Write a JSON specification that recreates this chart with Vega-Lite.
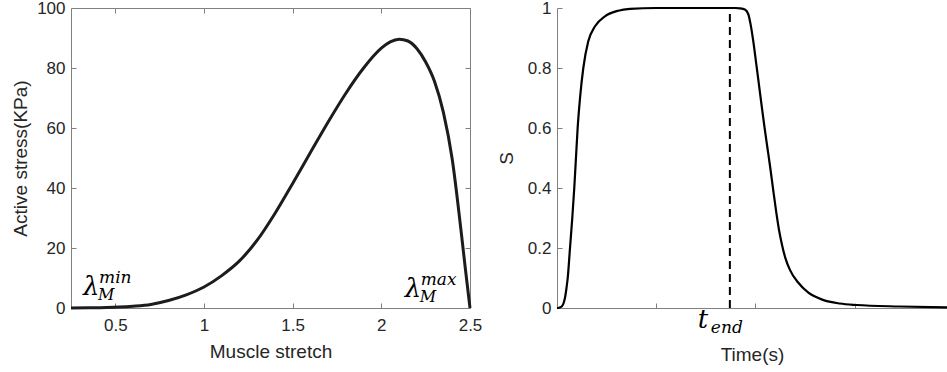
{
  "$schema": "https://vega.github.io/schema/vega-lite/v6.json",
  "padding": {"left": 11, "top": -2, "right": 0, "bottom": 0},
  "background": "white",
  "config": {
    "font": "Liberation Sans",
    "view": {"stroke": null},
    "axis": {
      "grid": false,
      "domainColor": "#808080",
      "tickColor": "#808080",
      "labelColor": "#262626",
      "titleColor": "#262626",
      "labelFont": "Liberation Sans",
      "titleFont": "Liberation Sans",
      "labelFontSize": 17,
      "titleFontSize": 19,
      "titleFontWeight": "normal",
      "tickSize": -5,
      "labelPadding": 11,
      "labelFlush": false
    },
    "axisX": {"labelPadding": 14}
  },
  "datasets": {
    "stress": [
      {"stretch": 0.25, "stress": 0},
      {"stretch": 0.35, "stress": 0.05},
      {"stretch": 0.45, "stress": 0.15},
      {"stretch": 0.52, "stress": 0.3},
      {"stretch": 0.6, "stress": 0.6},
      {"stretch": 0.7, "stress": 1.2},
      {"stretch": 0.8, "stress": 2.5},
      {"stretch": 0.9, "stress": 4.4},
      {"stretch": 1.0, "stress": 7.0},
      {"stretch": 1.1, "stress": 10.8},
      {"stretch": 1.2, "stress": 15.7},
      {"stretch": 1.3, "stress": 22.6},
      {"stretch": 1.4, "stress": 31.5},
      {"stretch": 1.5, "stress": 41.5},
      {"stretch": 1.6, "stress": 51.8},
      {"stretch": 1.7, "stress": 62.0},
      {"stretch": 1.8, "stress": 71.6},
      {"stretch": 1.9, "stress": 80.0},
      {"stretch": 2.0, "stress": 86.6},
      {"stretch": 2.05, "stress": 88.7},
      {"stretch": 2.1, "stress": 89.6},
      {"stretch": 2.15, "stress": 89.0},
      {"stretch": 2.2, "stress": 86.5},
      {"stretch": 2.25, "stress": 82.0},
      {"stretch": 2.3, "stress": 75.5},
      {"stretch": 2.35, "stress": 65.2},
      {"stretch": 2.4, "stress": 49.5},
      {"stretch": 2.45, "stress": 25.5},
      {"stretch": 2.475, "stress": 12.5},
      {"stretch": 2.5, "stress": 0}
    ],
    "lambda": [
      {"stretch": 0.318, "stress": 4.3, "sup": "min"},
      {"stretch": 2.132, "stress": 3.7, "sup": "max"}
    ],
    "activation": [
      {"time": 0, "s": 0},
      {"time": 0.02, "s": 0.001},
      {"time": 0.047, "s": 0.005},
      {"time": 0.065, "s": 0.015},
      {"time": 0.081, "s": 0.035},
      {"time": 0.095, "s": 0.065},
      {"time": 0.108, "s": 0.1},
      {"time": 0.131, "s": 0.2},
      {"time": 0.154, "s": 0.3},
      {"time": 0.174, "s": 0.4},
      {"time": 0.191, "s": 0.5},
      {"time": 0.208, "s": 0.6},
      {"time": 0.232, "s": 0.7},
      {"time": 0.265, "s": 0.8},
      {"time": 0.315, "s": 0.889},
      {"time": 0.383, "s": 0.939},
      {"time": 0.483, "s": 0.972},
      {"time": 0.617, "s": 0.991},
      {"time": 0.735, "s": 0.997},
      {"time": 1.0, "s": 1.0},
      {"time": 1.8, "s": 1.0},
      {"time": 1.843, "s": 0.999},
      {"time": 1.893, "s": 0.995},
      {"time": 1.927, "s": 0.98},
      {"time": 1.95, "s": 0.947},
      {"time": 1.977, "s": 0.891},
      {"time": 2.004, "s": 0.824},
      {"time": 2.034, "s": 0.747},
      {"time": 2.06, "s": 0.68},
      {"time": 2.09, "s": 0.605},
      {"time": 2.12, "s": 0.535},
      {"time": 2.15, "s": 0.465},
      {"time": 2.18, "s": 0.39},
      {"time": 2.21, "s": 0.318},
      {"time": 2.24, "s": 0.255},
      {"time": 2.27, "s": 0.207},
      {"time": 2.3, "s": 0.168},
      {"time": 2.346, "s": 0.128},
      {"time": 2.43, "s": 0.085},
      {"time": 2.53, "s": 0.052},
      {"time": 2.68, "s": 0.027},
      {"time": 2.85, "s": 0.015},
      {"time": 3.02, "s": 0.01},
      {"time": 3.45, "s": 0.005},
      {"time": 3.93, "s": 0.002}
    ],
    "tend": [{"time": 1.742}]
  },
  "spacing": 14,
  "hconcat": [
    {
      "width": 399,
      "height": 300,
      "view": {"stroke": "#808080"},
      "resolve": {"axis": {"x": "independent", "y": "independent"}},
      "layer": [
        {
          "data": {"name": "stress"},
          "mark": {"type": "line", "color": "#1c1c1c", "strokeWidth": 3, "interpolate": "monotone"},
          "encoding": {
            "x": {"field": "stretch", "type": "quantitative",
                  "scale": {"domain": [0.25, 2.5], "nice": false, "zero": false},
                  "axis": {"values": [0.5, 1, 1.5, 2, 2.5], "title": "Muscle stretch", "format": "~g", "domain": false, "titlePadding": 9}},
            "y": {"field": "stress", "type": "quantitative",
                  "scale": {"domain": [0, 100], "nice": false},
                  "axis": {"values": [0, 20, 40, 60, 80, 100], "title": "Active stress(KPa)", "domain": false, "titlePadding": 6}}
          }
        },
        {
          "data": {"name": "stress"},
          "mark": {"type": "line", "strokeOpacity": 0},
          "encoding": {
            "x": {"field": "stretch", "type": "quantitative",
                  "scale": {"domain": [0.25, 2.5], "nice": false, "zero": false},
                  "axis": {"orient": "top", "values": [0.5, 1, 1.5, 2, 2.5], "labels": false, "title": null, "domain": false}},
            "y": {"field": "stress", "type": "quantitative",
                  "scale": {"domain": [0, 100], "nice": false},
                  "axis": {"orient": "right", "values": [0, 20, 40, 60, 80, 100], "labels": false, "title": null, "domain": false}}
          }
        },
        {
          "data": {"name": "lambda"},
          "mark": {"type": "text", "text": "λ", "font": "DejaVu Serif", "fontStyle": "italic", "fontSize": 26, "align": "left", "baseline": "alphabetic", "color": "#000000"},
          "encoding": {
            "x": {"field": "stretch", "type": "quantitative", "scale": {"domain": [0.25, 2.5], "nice": false, "zero": false}, "axis": null},
            "y": {"field": "stress", "type": "quantitative", "scale": {"domain": [0, 100], "nice": false}, "axis": null}
          }
        },
        {
          "data": {"name": "lambda"},
          "mark": {"type": "text", "text": "M", "font": "DejaVu Serif", "fontStyle": "italic", "fontSize": 16, "align": "left", "baseline": "alphabetic", "dx": 15, "dy": 5, "color": "#000000"},
          "encoding": {
            "x": {"field": "stretch", "type": "quantitative", "scale": {"domain": [0.25, 2.5], "nice": false, "zero": false}, "axis": null},
            "y": {"field": "stress", "type": "quantitative", "scale": {"domain": [0, 100], "nice": false}, "axis": null}
          }
        },
        {
          "data": {"name": "lambda"},
          "mark": {"type": "text", "font": "DejaVu Serif", "fontStyle": "italic", "fontSize": 17, "align": "left", "baseline": "alphabetic", "dx": 16, "dy": -12, "color": "#000000"},
          "encoding": {
            "x": {"field": "stretch", "type": "quantitative", "scale": {"domain": [0.25, 2.5], "nice": false, "zero": false}, "axis": null},
            "y": {"field": "stress", "type": "quantitative", "scale": {"domain": [0, 100], "nice": false}, "axis": null},
            "text": {"field": "sup"}
          }
        }
      ]
    },
    {
      "width": 390,
      "height": 300,
      "resolve": {"axis": {"x": "independent", "y": "independent"}},
      "layer": [
        {
          "data": {"name": "activation"},
          "mark": {"type": "line", "color": "#000000", "strokeWidth": 2.2, "interpolate": "monotone"},
          "encoding": {
            "x": {"field": "time", "type": "quantitative",
                  "scale": {"domain": [0, 3.93], "nice": false, "zero": false},
                  "axis": {"values": [1, 2, 3], "labels": false, "title": "Time(s)", "titlePadding": 37}},
            "y": {"field": "s", "type": "quantitative",
                  "scale": {"domain": [0, 1], "nice": false},
                  "axis": {"values": [0, 0.2, 0.4, 0.6, 0.8, 1], "format": "~g", "title": "S", "titlePadding": 11}}
          }
        },
        {
          "data": {"name": "tend"},
          "mark": {"type": "rule", "color": "#000000", "strokeWidth": 2, "strokeDash": [8, 5]},
          "encoding": {
            "x": {"field": "time", "type": "quantitative", "axis": null},
            "y": {"datum": 0, "type": "quantitative", "axis": null},
            "y2": {"datum": 1}
          }
        },
        {
          "data": {"name": "tend"},
          "mark": {"type": "text", "text": "t", "font": "DejaVu Serif", "fontStyle": "italic", "fontSize": 26, "align": "left", "baseline": "alphabetic", "dx": -32, "dy": 20, "color": "#000000"},
          "encoding": {
            "x": {"field": "time", "type": "quantitative", "axis": null},
            "y": {"datum": 0, "type": "quantitative", "axis": null}
          }
        },
        {
          "data": {"name": "tend"},
          "mark": {"type": "text", "text": "end", "font": "DejaVu Serif", "fontStyle": "italic", "fontSize": 17, "align": "left", "baseline": "alphabetic", "dx": -19, "dy": 25, "color": "#000000"},
          "encoding": {
            "x": {"field": "time", "type": "quantitative", "axis": null},
            "y": {"datum": 0, "type": "quantitative", "axis": null}
          }
        }
      ]
    }
  ]
}
